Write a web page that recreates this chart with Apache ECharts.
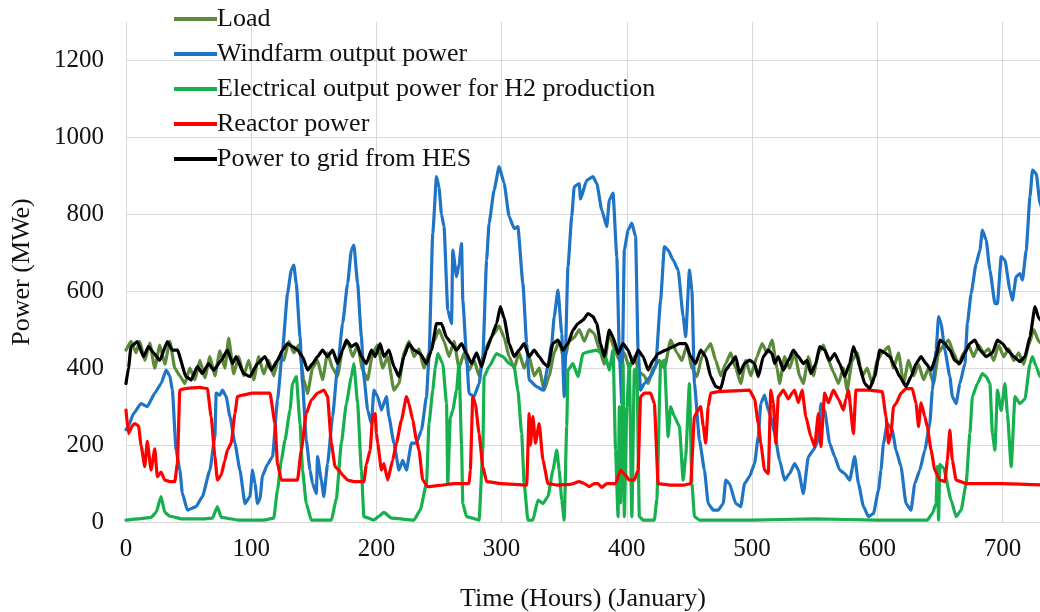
<!DOCTYPE html>
<html>
<head>
<meta charset="utf-8">
<script src="https://cdn.jsdelivr.net/npm/echarts@6/dist/echarts.min.js"></script>
<style>
html,body{margin:0;padding:0;background:#fff;}
#chart{width:1040px;height:612px;}
</style>
</head>
<body>
<div id="chart"></div>
<script>
const seriesNames = ["Load", "Windfarm output power", "Electrical output power for H2 production", "Reactor power", "Power to grid from HES"];
const xTicks = [0, 100, 200, 300, 400, 500, 600, 700];
const yTicks = [0, 200, 400, 600, 800, 1000, 1200];

// [hour, MWe]
const loadData = [[0,447],[4,470],[8,440],[11,470],[15,420],[19,465],[23,400],[27,460],[31,410],[35,470],[39,400],[43,380],[47,360],[51,400],[55,370],[59,420],[63,375],[67,430],[71,380],[75,445],[79,400],[82,478],[86,385],[90,430],[94,380],[98,420],[102,370],[106,430],[110,385],[114,420],[118,380],[122,430],[126,420],[130,470],[134,440],[138,460],[142,370],[145,334],[149,400],[153,420],[157,370],[161,440],[165,400],[169,380],[173,450],[177,470],[181,430],[185,460],[189,395],[193,370],[197,440],[201,460],[205,400],[209,430],[214,343],[218,360],[222,440],[226,470],[230,430],[234,450],[238,400],[242,440],[246,470],[250,500],[254,470],[258,430],[262,470],[266,400],[270,440],[274,395],[278,420],[282,380],[286,440],[290,470],[294,490],[298,510],[302,480],[306,430],[310,400],[314,440],[318,400],[322,430],[326,380],[330,400],[334,343],[338,380],[342,440],[346,470],[350,420],[354,470],[358,480],[362,500],[366,470],[370,500],[374,490],[378,450],[382,410],[386,490],[390,450],[394,420],[398,440],[402,400],[406,430],[410,390],[414,380],[417,360],[421,400],[426,420],[430,400],[435,473],[440,440],[444,420],[448,460],[452,400],[456,378],[460,430],[464,450],[467,464],[471,420],[475,380],[479,412],[483,440],[487,400],[491,360],[495,420],[499,380],[504,430],[508,464],[512,440],[516,473],[520,400],[522,360],[526,430],[530,400],[534,440],[538,380],[541,360],[545,430],[549,380],[553,440],[557,460],[561,420],[565,390],[569,360],[573,400],[576,343],[580,420],[584,440],[588,380],[592,400],[596,360],[600,420],[604,440],[609,456],[613,400],[617,440],[621,360],[625,420],[629,380],[633,410],[637,370],[641,400],[645,360],[649,440],[653,460],[657,473],[661,440],[665,410],[669,440],[673,460],[677,430],[681,460],[685,440],[689,450],[693,420],[697,460],[701,430],[705,450],[709,420],[713,440],[717,410],[721,460],[725,500],[729,470],[732,460]];

const windData = [[0,240],[2,250],[6,282],[12,308],[17,300],[23,335],[28,360],[32,395],[35,380],[37,343],[40,187],[43,135],[45,75],[49,31],[56,40],[61,66],[67,135],[71,222],[72,335],[75,330],[77,343],[80,326],[83,274],[87,205],[91,135],[95,48],[99,66],[101,135],[103,100],[105,48],[107,60],[109,120],[113,150],[117,170],[121,317],[125,447],[129,594],[132,655],[134,668],[136,620],[139,482],[141,360],[144,213],[147,135],[149,100],[152,74],[153,170],[156,109],[158,66],[161,152],[165,274],[169,404],[173,516],[177,620],[180,707],[182,720],[185,620],[188,482],[190,378],[193,291],[196,256],[198,343],[201,326],[204,291],[208,326],[210,274],[214,205],[218,135],[221,160],[224,135],[228,205],[232,205],[236,239],[240,326],[242,430],[245,750],[248,898],[250,870],[252,800],[254,768],[257,551],[260,516],[261,707],[264,638],[266,670],[268,724],[269,577],[272,430],[274,334],[278,326],[282,360],[285,430],[288,681],[290,777],[294,863],[298,924],[302,881],[306,794],[310,763],[313,768],[317,620],[320,464],[322,369],[328,352],[333,343],[337,404],[340,464],[342,534],[345,603],[348,490],[350,326],[353,664],[356,794],[358,872],[362,880],[363,840],[368,889],[373,898],[376,880],[380,811],[384,768],[386,837],[389,855],[392,690],[394,447],[396,308],[398,707],[401,759],[404,777],[407,742],[409,447],[411,343],[414,360],[419,378],[423,404],[427,577],[430,716],[433,707],[437,681],[441,655],[445,534],[447,482],[450,655],[452,603],[454,360],[458,213],[462,135],[465,48],[469,31],[473,31],[477,48],[479,109],[482,100],[487,48],[491,40],[494,100],[498,118],[502,152],[505,222],[507,308],[510,330],[513,291],[515,274],[518,230],[522,161],[526,109],[530,126],[534,152],[537,135],[541,74],[545,170],[549,187],[553,213],[555,308],[558,290],[562,205],[566,170],[570,135],[574,126],[578,109],[582,170],[585,100],[589,40],[593,14],[597,22],[601,83],[603,135],[605,205],[608,256],[612,239],[615,187],[619,144],[623,48],[627,31],[630,100],[634,135],[638,187],[642,256],[644,343],[647,447],[649,534],[651,515],[654,447],[658,378],[660,326],[663,308],[666,360],[670,412],[672,516],[675,594],[679,672],[682,707],[684,759],[687,733],[690,655],[694,568],[696,568],[699,690],[702,681],[706,603],[708,577],[711,638],[714,646],[716,629],[719,707],[722,846],[724,915],[727,906],[730,828],[733,800]];

const h2Data = [[0,5],[10,8],[20,12],[24,25],[28,66],[31,25],[35,15],[45,8],[60,8],[69,10],[73,40],[76,12],[90,5],[110,5],[118,10],[121,83],[124,160],[127,213],[131,291],[133,360],[136,378],[139,256],[141,135],[144,48],[148,5],[164,5],[168,60],[172,205],[176,308],[180,378],[182,412],[185,308],[188,135],[190,14],[198,5],[202,15],[206,25],[212,10],[230,5],[235,31],[240,100],[242,256],[245,343],[247,400],[249,438],[253,412],[256,308],[257,100],[259,270],[261,291],[264,343],[266,412],[268,200],[269,48],[272,14],[282,5],[285,187],[286,378],[290,404],[296,438],[301,430],[306,412],[310,404],[313,343],[316,230],[318,100],[321,5],[325,5],[329,57],[333,48],[337,66],[341,135],[344,187],[346,135],[348,57],[350,5],[352,250],[353,395],[357,412],[361,378],[365,438],[370,443],[376,447],[380,438],[383,430],[386,395],[389,447],[391,187],[393,14],[394,300],[395,50],[397,412],[398,14],[400,300],[402,412],[404,14],[406,395],[408,400],[410,14],[413,5],[422,5],[424,60],[427,412],[430,421],[433,222],[435,300],[438,274],[442,248],[445,109],[447,170],[450,360],[452,100],[454,14],[458,5],[500,5],[550,8],[600,5],[640,5],[644,22],[647,48],[648,144],[649,5],[650,150],[653,140],[659,57],[663,14],[667,31],[671,100],[674,230],[676,326],[680,360],[684,386],[687,378],[690,360],[692,230],[694,187],[696,343],[699,290],[702,360],[704,280],[707,144],[710,326],[714,308],[718,320],[722,412],[724,430],[727,404],[730,378],[733,380]];

const reactorData = [[0,291],[2,230],[5,250],[7,256],[10,250],[12,200],[15,144],[17,210],[20,135],[23,190],[25,118],[28,130],[31,109],[35,105],[39,105],[41,152],[43,343],[47,347],[59,350],[65,347],[68,274],[71,170],[73,109],[76,122],[79,161],[81,187],[84,205],[87,282],[89,326],[93,330],[101,335],[115,335],[119,256],[121,152],[124,109],[137,109],[140,187],[144,282],[148,317],[153,335],[158,343],[161,326],[164,205],[167,144],[170,135],[173,122],[177,109],[182,105],[190,105],[192,150],[195,187],[197,274],[199,282],[200,230],[201,205],[204,135],[206,152],[209,109],[213,161],[216,205],[220,265],[224,326],[226,308],[229,265],[232,213],[234,187],[237,109],[241,92],[250,95],[262,100],[274,100],[275,135],[277,326],[279,308],[282,230],[285,144],[288,105],[300,100],[320,96],[322,282],[323,200],[325,274],[327,205],[330,256],[333,161],[337,100],[344,96],[355,98],[362,105],[366,100],[370,92],[374,100],[377,100],[380,90],[384,100],[391,100],[395,135],[398,125],[402,109],[406,109],[409,135],[411,326],[414,335],[419,335],[422,308],[425,100],[435,96],[446,96],[451,100],[454,274],[457,291],[459,300],[461,250],[463,205],[465,300],[467,335],[473,339],[498,343],[502,320],[505,256],[507,205],[510,135],[513,126],[515,343],[517,308],[519,205],[521,326],[525,343],[529,320],[532,335],[534,343],[537,310],[540,343],[543,274],[547,222],[550,196],[553,282],[555,196],[558,335],[561,310],[565,343],[569,320],[573,291],[575,320],[577,343],[581,230],[583,343],[594,343],[604,339],[607,274],[609,205],[611,230],[613,300],[615,308],[619,335],[623,347],[628,347],[631,308],[633,248],[635,310],[638,274],[640,248],[643,187],[646,135],[650,109],[654,105],[656,160],[658,239],[660,160],[663,109],[671,100],[700,100],[733,96]];

const gridData = [[0,360],[2,400],[4,456],[9,469],[14,430],[18,456],[22,440],[27,420],[33,469],[37,447],[41,447],[48,378],[52,369],[57,404],[61,386],[66,412],[70,395],[76,420],[81,447],[85,412],[88,430],[94,386],[99,378],[105,412],[111,430],[116,395],[121,420],[125,447],[129,464],[133,456],[137,447],[141,430],[145,395],[149,412],[153,430],[157,447],[161,430],[165,447],[169,412],[173,447],[176,473],[180,456],[184,464],[188,430],[192,412],[196,447],[199,430],[203,464],[206,430],[210,447],[214,404],[218,378],[222,430],[226,464],[230,447],[235,438],[240,412],[244,447],[248,516],[252,516],[256,480],[260,464],[264,447],[268,464],[272,438],[276,412],[280,440],[284,404],[288,447],[292,482],[296,516],[299,560],[302,530],[306,464],[310,430],[314,447],[318,464],[322,430],[326,447],[330,430],[334,412],[337,404],[341,464],[345,473],[349,447],[353,464],[357,499],[361,516],[365,525],[369,542],[373,534],[376,516],[379,464],[382,430],[386,499],[389,480],[393,438],[397,464],[401,447],[405,412],[409,447],[413,430],[417,395],[421,420],[425,438],[431,447],[437,456],[442,464],[447,464],[451,430],[455,412],[459,447],[463,430],[467,378],[471,352],[475,347],[479,395],[483,412],[487,430],[490,386],[494,412],[498,421],[502,412],[505,378],[509,430],[513,447],[516,438],[518,412],[521,430],[525,395],[529,420],[533,447],[537,430],[541,412],[544,420],[547,386],[551,412],[554,456],[558,447],[562,420],[566,438],[570,412],[574,378],[578,412],[581,456],[584,430],[586,404],[590,360],[594,347],[598,378],[602,447],[606,440],[610,430],[614,404],[618,378],[623,352],[627,378],[631,412],[635,430],[639,412],[643,395],[647,430],[650,473],[654,464],[658,447],[662,420],[666,412],[670,440],[674,464],[678,473],[682,447],[687,430],[692,440],[696,473],[700,464],[704,447],[709,430],[714,417],[718,430],[722,482],[726,560],[729,530],[732,520]];

const colors = ["#5b8a3a", "#1f74c6", "#16b04e", "#ff0000", "#000000"];
const allData = [loadData, windData, h2Data, reactorData, gridData];
const FONT = "'Liberation Serif', 'Times New Roman', serif";

const chart = echarts.init(document.getElementById('chart'), null, {renderer: 'canvas'});
chart.setOption({
  animation: false,
  backgroundColor: '#ffffff',
  textStyle: {fontFamily: FONT},
  grid: {left: 126, right: 0, top: 22, bottom: 90, containLabel: false, outerBoundsMode: 'none'},
  legend: {
    orient: 'vertical',
    left: 169, top: 1,
    itemWidth: 43, itemHeight: 4, itemGap: 9,
    icon: 'rect',
    textStyle: {fontFamily: FONT, fontSize: 26, color: '#111', padding: [0,0,0,-5]},
    data: seriesNames
  },
  xAxis: {
    type: 'value', min: 0, max: 730, interval: 100,
    name: 'Time (Hours) (January)', nameLocation: 'middle', nameGap: 64,
    nameTextStyle: {fontFamily: FONT, fontSize: 26, color: '#111'},
    axisLine: {show: true, lineStyle: {color: '#d9d9d9', width: 1}},
    axisTick: {show: false},
    axisLabel: {fontFamily: FONT, fontSize: 25, color: '#111', margin: 15, showMaxLabel: false,
      formatter: v => xTicks.includes(v) ? String(v) : ''},
    splitLine: {show: true, showMaxLine: false, lineStyle: {color: '#d9d9d9', width: 1}}
  },
  yAxis: {
    type: 'value', min: 0, max: 1300, interval: 200,
    name: 'Power (MWe)', nameLocation: 'middle', nameGap: 91,
    nameTextStyle: {fontFamily: FONT, fontSize: 26, color: '#111', padding: [0, 0, 0, 0]},
    axisLine: {show: true, lineStyle: {color: '#d9d9d9', width: 1}},
    axisTick: {show: false},
    axisLabel: {fontFamily: FONT, fontSize: 25, color: '#111', margin: 22, showMaxLabel: false,
      formatter: v => yTicks.includes(v) ? String(v) : ''},
    splitLine: {show: true, showMaxLine: false, lineStyle: {color: '#d9d9d9', width: 1}}
  },
  series: seriesNames.map((name, i) => ({
    name: name,
    type: 'line',
    data: allData[i],
    showSymbol: false,
    symbol: 'none',
    smooth: 0.15,
    smoothMonotone: 'x',
    color: colors[i],
    lineStyle: {color: colors[i], width: 3.2, join: 'round', cap: 'round'},
    z: 2 + i
  }))
});
</script>
</body>
</html>
